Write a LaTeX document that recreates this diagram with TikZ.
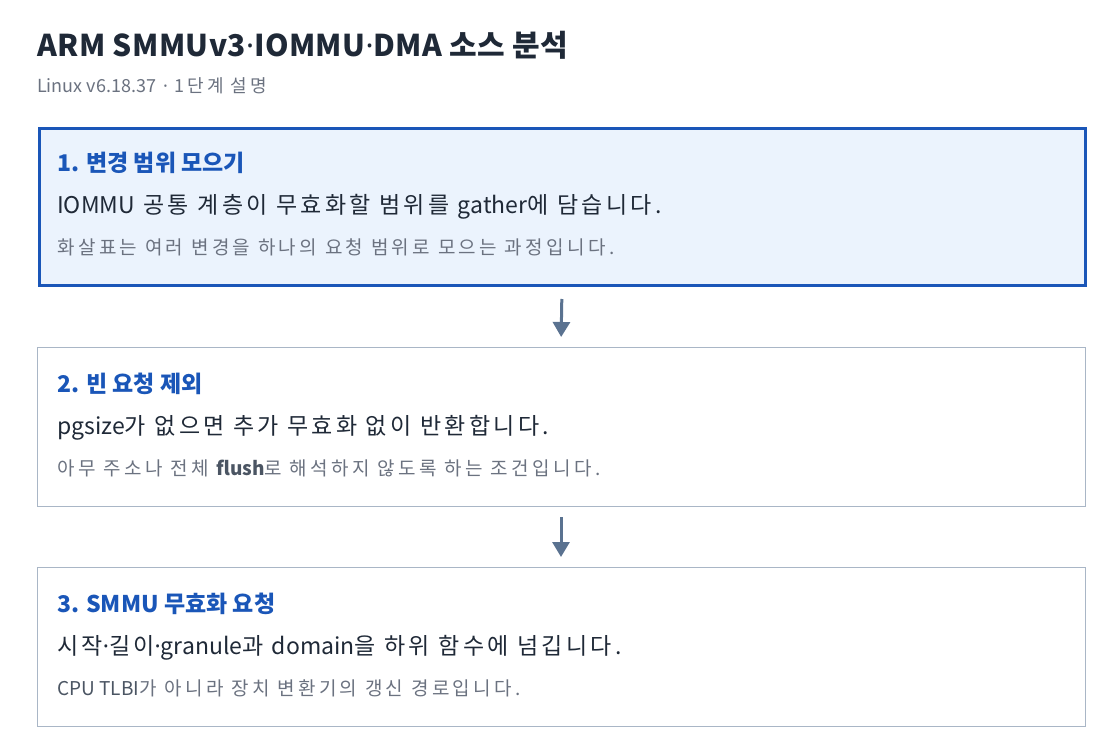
\documentclass[tikz,border=0pt]{standalone}
\usepackage{fontspec}
\setmainfont{Noto Sans CJK KR}
\newfontfamily\titleko{Noto Sans CJK KR}[LetterSpace=1.5]
\newfontfamily\subko{Noto Sans CJK KR}[LetterSpace=16]
\newfontfamily\mainko{Noto Sans CJK KR}[LetterSpace=14.5]
\newfontfamily\noteko{Noto Sans CJK KR}[LetterSpace=18]
\newfontfamily\latinfont{Noto Sans}
\newcommand{\md}{{\latinfont ·}}
\newcommand{\lat}[1]{{\rmfamily #1}}
\usetikzlibrary{arrows.meta}
\definecolor{titlec}{HTML}{1F2937}
\definecolor{subc}{HTML}{6B7280}
\definecolor{headc}{HTML}{1A56B8}
\definecolor{fillc}{HTML}{EBF3FD}
\definecolor{grayb}{HTML}{A9B6C6}
\definecolor{arrc}{HTML}{5A7290}
\definecolor{notec}{HTML}{6B7280}
\definecolor{noted}{HTML}{4B5563}
\tikzset{
  txt/.style={inner sep=0pt, anchor=base west},
  titletxt/.style={txt, text=titlec, font=\titleko\fontsize{30}{34}\selectfont\bfseries},
  subtxt/.style={txt, text=subc, font=\subko\fontsize{18}{21}\selectfont},
  headtxt/.style={txt, text=headc, font=\fontsize{23}{27}\selectfont\bfseries},
  maintxt/.style={txt, text=titlec, font=\mainko\fontsize{23}{27}\selectfont},
  notetxt/.style={txt, text=notec, font=\noteko\fontsize{19}{22}\selectfont},
  activebox/.style={draw=headc, line width=3pt, fill=fillc, minimum width=1046pt, minimum height=157pt, inner sep=0pt, anchor=north west},
  plainbox/.style={draw=grayb, line width=1pt, fill=white, minimum width=1048pt, minimum height=159pt, inner sep=0pt, anchor=north west},
  arr/.style={draw=arrc, line width=3pt, -{Triangle[width=17pt,length=15pt]}, arrc}
}
\begin{document}
\begin{tikzpicture}[x=1pt,y=-1pt]
\useasboundingbox (0,0) rectangle (1120,754);
\fill[white] (0,0) rectangle (1120,754);
\node[titletxt] (title) at (37,57) {ARM SMMUv3{\latinfont\bfseries ·}IOMMU{\latinfont\bfseries ·}DMA 소스 분석};
\node[subtxt] (sub) at (37,93) {\lat{Linux v6.18.37} \md{} 1단계 설명};

\node[activebox] (b1) at (37.5,127.5) {};
\node[headtxt] (h1) at (57,172) {1. 변경 범위 모으기};
\node[maintxt] (m1) at (57,214) {\lat{IOMMU} 공통 계층이 무효화할 범위를 \lat{gather}에 담습니다.};
\node[notetxt] (n1) at (57,255) {화살표는 여러 변경을 하나의 요청 범위로 모으는 과정입니다.};

\node[plainbox] (b2) at (36.5,346.5) {};
\node[headtxt] (h2) at (57,392) {2. 빈 요청 제외};
\node[maintxt] (m2) at (57,434) {\lat{pgsize}가 없으면 추가 무효화 없이 반환합니다.};
\node[notetxt] (n2) at (57,475) {아무 주소나 전체 {\rmfamily\bfseries\color{noted}flush}로 해석하지 않도록 하는 조건입니다.};

\node[plainbox] (b3) at (36.5,566.5) {};
\node[headtxt] (h3) at (57,612) {3. SMMU 무효화 요청};
\node[maintxt] (m3) at (57,654) {시작\md 길이\md\lat{granule}과 \lat{domain}을 하위 함수에 넘깁니다.};
\node[notetxt] (n3) at (57,695) {{\rmfamily\color{noted}CPU TLBI}가 아니라 장치 변환기의 갱신 경로입니다.};

\draw[arr, shorten <=11.5pt, shorten >=9.5pt] (b1.south) -- (b2.north);
\draw[arr, shorten <=10.5pt, shorten >=9.5pt] (b2.south) -- (b3.north);
\end{tikzpicture}
\end{document}
